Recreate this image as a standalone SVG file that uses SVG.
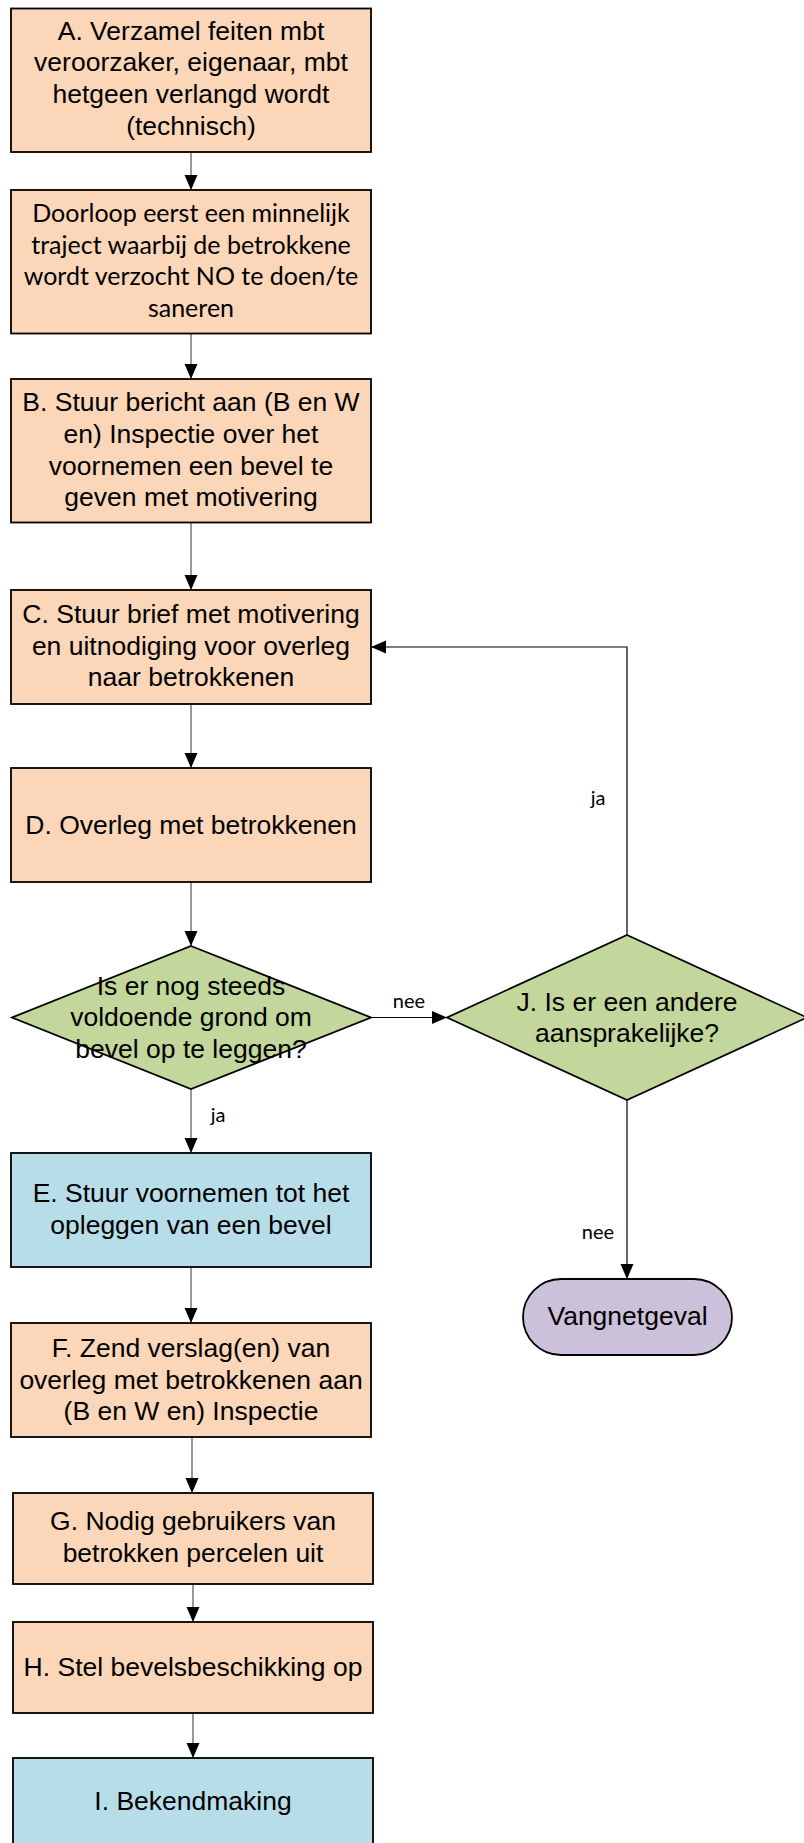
<svg xmlns="http://www.w3.org/2000/svg" width="804" height="1843" viewBox="0 0 804 1843">
<style>
.box{stroke:#000;stroke-width:1.8}
.or{fill:#FBD6B8}
.bl{fill:#B7DDE8}
.gr{fill:#C3D69B}
.pu{fill:#CCC1DA}
.t{font-family:"Liberation Sans",Arial,sans-serif;font-size:26.5px;fill:#000;text-anchor:middle}
.c{font-family:Lato,"Open Sans",sans-serif;font-size:25px;fill:#000;text-anchor:middle}
.lbl{font-family:Lato,"Open Sans",sans-serif;font-size:20px;fill:#000;text-anchor:middle}
.cg{fill:none;stroke:#7F7F7F;stroke-width:1.6}
.ck{fill:none;stroke:#000;stroke-width:1.2}
</style>
<defs>
<marker id="ah" markerUnits="userSpaceOnUse" markerWidth="16" markerHeight="14" refX="15" refY="6.5" orient="auto">
<path d="M0,0 L15,6.5 L0,13 z" fill="#000"/>
</marker>
</defs>
<rect width="804" height="1843" fill="#fff"/>
<g id="connectors">
<line class="cg" x1="191" y1="152" x2="191" y2="190" marker-end="url(#ah)"/>
<line class="cg" x1="191" y1="334" x2="191" y2="379" marker-end="url(#ah)"/>
<line class="cg" x1="191" y1="523" x2="191" y2="590" marker-end="url(#ah)"/>
<line class="cg" x1="191" y1="704" x2="191" y2="768" marker-end="url(#ah)"/>
<line class="cg" x1="191" y1="882" x2="191" y2="946" marker-end="url(#ah)"/>
<line class="cg" x1="191" y1="1089" x2="191" y2="1153" marker-end="url(#ah)"/>
<text class="lbl" x="218" y="1122">ja</text>
<line class="ck" x1="371" y1="1017.5" x2="447" y2="1017.5" marker-end="url(#ah)"/>
<text class="lbl" x="409" y="1008">nee</text>
<polyline class="ck" points="627,935 627,647 371,647" marker-end="url(#ah)"/>
<text class="lbl" x="598" y="805">ja</text>
<line class="ck" x1="627" y1="1100" x2="627" y2="1279" marker-end="url(#ah)"/>
<text class="lbl" x="598" y="1239">nee</text>
<line class="cg" x1="191" y1="1267" x2="191" y2="1323" marker-end="url(#ah)"/>
<line class="cg" x1="192" y1="1437" x2="192" y2="1493" marker-end="url(#ah)"/>
<line class="cg" x1="193" y1="1584" x2="193" y2="1622" marker-end="url(#ah)"/>
<line class="cg" x1="193" y1="1713" x2="193" y2="1758" marker-end="url(#ah)"/>
</g>
<g id="A">
<rect class="box or" x="11" y="8.5" width="360" height="143.5"/>
<text class="t" x="191" y="39.5">A. Verzamel feiten mbt</text>
<text class="t" x="191" y="71">veroorzaker, eigenaar, mbt</text>
<text class="t" x="191" y="102.5">hetgeen verlangd wordt</text>
<text class="t" x="191" y="134.5">(technisch)</text>
</g>
<g id="Doorloop">
<rect class="box or" x="11" y="190" width="360" height="143.5"/>
<text class="c" x="191" y="221.5">Doorloop eerst een minnelijk</text>
<text class="c" x="191" y="253.5">traject waarbij de betrokkene</text>
<text class="c" x="191" y="285">wordt verzocht NO te doen/te</text>
<text class="c" x="191" y="316.5">saneren</text>
</g>
<g id="B">
<rect class="box or" x="11" y="379" width="360" height="143.5"/>
<text class="t" x="191" y="411">B. Stuur bericht aan (B en W</text>
<text class="t" x="191" y="442.5">en) Inspectie over het</text>
<text class="t" x="191" y="474.5">voornemen een bevel te</text>
<text class="t" x="191" y="506">geven met motivering</text>
</g>
<g id="C">
<rect class="box or" x="11" y="590" width="360" height="114"/>
<text class="t" x="191" y="622.5">C. Stuur brief met motivering</text>
<text class="t" x="191" y="654.5">en uitnodiging voor overleg</text>
<text class="t" x="191" y="686">naar betrokkenen</text>
</g>
<g id="D">
<rect class="box or" x="11" y="768" width="360" height="114"/>
<text class="t" x="191" y="834">D. Overleg met betrokkenen</text>
</g>
<g id="Q1">
<polygon class="box gr" points="191,946 371,1017.5 191,1089 12,1017.5"/>
<text class="t" x="191" y="994.5">Is er nog steeds</text>
<text class="t" x="191" y="1026">voldoende grond om</text>
<text class="t" x="191" y="1057.5">bevel op te leggen?</text>
</g>
<g id="J">
<polygon class="box gr" points="627,935 807,1017.5 627,1100 447,1017.5"/>
<text class="t" x="627" y="1010.5">J. Is er een andere</text>
<text class="t" x="627" y="1042">aansprakelijke?</text>
</g>
<g id="E">
<rect class="box bl" x="11" y="1153" width="360" height="114"/>
<text class="t" x="191" y="1201.5">E. Stuur voornemen tot het</text>
<text class="t" x="191" y="1233.5">opleggen van een bevel</text>
</g>
<g id="Vangnetgeval">
<rect class="box pu" x="523" y="1279" width="209" height="76" rx="38" ry="38"/>
<text class="t" x="627.5" y="1324.5">Vangnetgeval</text>
</g>
<g id="F">
<rect class="box or" x="11" y="1323" width="360" height="114"/>
<text class="t" x="191" y="1356.5">F. Zend verslag(en) van</text>
<text class="t" x="191" y="1388.5">overleg met betrokkenen aan</text>
<text class="t" x="191" y="1420">(B en W en) Inspectie</text>
</g>
<g id="G">
<rect class="box or" x="13" y="1493" width="360" height="91"/>
<text class="t" x="193" y="1529.5">G. Nodig gebruikers van</text>
<text class="t" x="193" y="1561.5">betrokken percelen uit</text>
</g>
<g id="H">
<rect class="box or" x="13" y="1622" width="360" height="91"/>
<text class="t" x="193" y="1676">H. Stel bevelsbeschikking op</text>
</g>
<g id="I">
<rect class="box bl" x="13" y="1758" width="360" height="100"/>
<text class="t" x="193" y="1810">I. Bekendmaking</text>
</g>
</svg>
